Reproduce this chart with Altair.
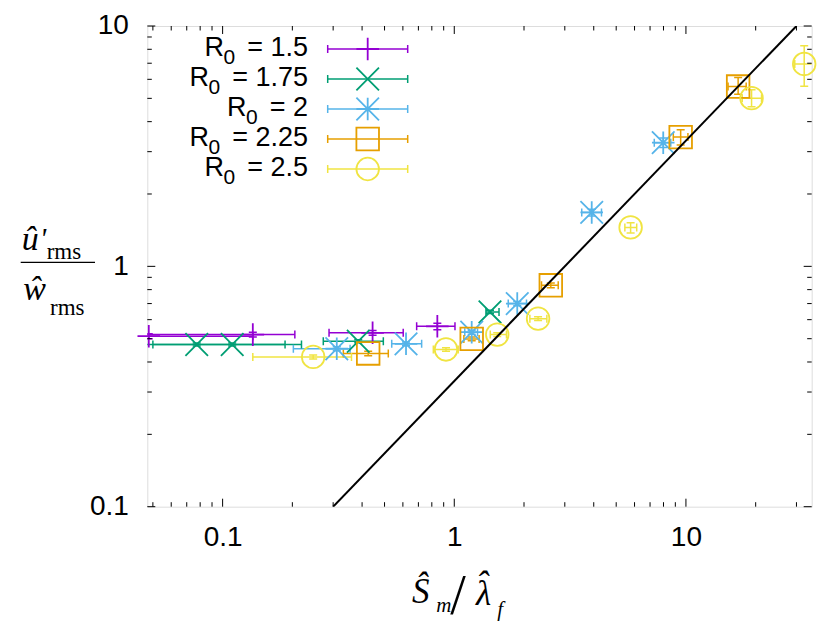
import altair as alt
import pandas as pd

# ---------------- data ----------------
SERIES = ["R0 = 1.5", "R0 = 1.75", "R0 = 2", "R0 = 2.25", "R0 = 2.5"]
R0_VALUES = ["1.5", "1.75", "2", "2.25", "2.5"]
COLORS = ["#9400d3", "#009e73", "#56b4e9", "#e69f00", "#f0e442"]

r150_x   = [0.048, 0.135, 0.444, 0.845]
r150_y   = [0.512, 0.520, 0.529, 0.563]
r150_xlo = [0.030, 0.040, 0.288, 0.688]
r150_xhi = [0.135, 0.205, 0.602, 1.007]
r150_ylo = [0.500, 0.508, 0.517, 0.545]
r150_yhi = [0.524, 0.532, 0.541, 0.580]

r175_x   = [0.0773, 0.110, 0.385, 1.426]
r175_y   = [0.473, 0.473, 0.488, 0.646]
r175_xlo = [0.035, 0.050, 0.272, 1.37]
r175_xhi = [0.186, 0.219, 0.494, 1.56]
r175_ylo = [0.466, 0.466, 0.481, 0.636]
r175_yhi = [0.480, 0.480, 0.495, 0.656]

r200_x   = [0.311, 0.619, 1.189, 1.87, 3.92, 7.98]
r200_y   = [0.454, 0.476, 0.532, 0.700, 1.676, 3.27]
r200_xlo = [0.202, 0.537, 1.11, 1.71, 3.55, 7.30]
r200_xhi = [0.355, 0.723, 1.26, 2.05, 4.32, 8.60]
r200_ylo = [0.445, 0.467, 0.522, 0.686, 1.62, 3.12]
r200_yhi = [0.463, 0.485, 0.542, 0.714, 1.73, 3.42]

r225_x   = [0.425, 1.189, 2.61, 9.49, 16.8]
r225_y   = [0.434, 0.499, 0.834, 3.45, 5.60]
r225_xlo = [0.332, 1.10, 2.38, 8.82, 15.2]
r225_xhi = [0.519, 1.28, 2.81, 10.2, 18.2]
r225_ylo = [0.425, 0.490, 0.815, 3.20, 5.20]
r225_yhi = [0.443, 0.508, 0.853, 3.70, 6.10]

r250_x   = [0.246, 0.921, 1.533, 2.30, 5.77, 19.2, 32.4]
r250_y   = [0.420, 0.451, 0.520, 0.606, 1.452, 5.01, 6.95]
r250_xlo = [0.135, 0.812, 1.43, 2.12, 5.45, 17.5, 29.5]
r250_xhi = [0.360, 1.04, 1.68, 2.51, 6.13, 21.2, 36.0]
r250_ylo = [0.412, 0.443, 0.511, 0.595, 1.375, 4.61, 5.62]
r250_yhi = [0.428, 0.459, 0.529, 0.617, 1.52, 5.43, 8.28]

FIT_X = [0.3, 30.0]
FIT_Y = [0.1, 10.0]

X_TICKS = [0.1, 1, 10]
Y_TICKS = [0.1, 1, 10]
X_DOMAIN = [0.0473, 34.9]
Y_DOMAIN = [0.1, 10]

# ---------------- build tables ----------------
series_data = [
    (r150_x, r150_y, r150_xlo, r150_xhi, r150_ylo, r150_yhi),
    (r175_x, r175_y, r175_xlo, r175_xhi, r175_ylo, r175_yhi),
    (r200_x, r200_y, r200_xlo, r200_xhi, r200_ylo, r200_yhi),
    (r225_x, r225_y, r225_xlo, r225_xhi, r225_ylo, r225_yhi),
    (r250_x, r250_y, r250_xlo, r250_xhi, r250_ylo, r250_yhi),
]
rows = []
for name, (xx, yy, xl, xh, yl, yh) in zip(SERIES, series_data):
    for a, b, c, d, e, f in zip(xx, yy, xl, xh, yl, yh):
        rows.append(dict(series=name, x=a, y=b, xlo=c, xhi=d, ylo=e, yhi=f))
df = pd.DataFrame(rows)
fit_df = pd.DataFrame({"fx": FIT_X, "fy": FIT_Y})


def minor_ticks(domain, majors):
    out = []
    for e in range(-3, 3):
        for m in range(1, 10):
            v = round(m * 10 ** e, 6)
            if domain[0] <= v <= domain[1] and v not in majors:
                out.append(v)
    return out


xmaj = pd.DataFrame({"v": X_TICKS})
xmin = pd.DataFrame({"v": minor_ticks(X_DOMAIN, X_TICKS)})
ymaj = pd.DataFrame({"v": Y_TICKS})
ymin = pd.DataFrame({"v": minor_ticks(Y_DOMAIN, Y_TICKS)})
one = pd.DataFrame({"a": [0]})

# ---------------- styling ----------------
W, H = 664.4, 480.7
SANS = "Liberation Sans"
SERIF = "Liberation Serif"
PLUS = "M-1,0L1,0M0,-1L0,1"
CROSS = "M-1,-1L1,1M-1,1L1,-1"
STAR = "M-1,0L1,0M0,-1L0,1M-1,-1L1,1M-1,1L1,-1"
SHAPES = [PLUS, CROSS, STAR, "square", "circle"]
MSIZE = 510
TICKFS = 28

xs = alt.Scale(type="log", domain=X_DOMAIN, nice=False)
ys = alt.Scale(type="log", domain=Y_DOMAIN, nice=False)
xaxis = alt.Axis(values=X_TICKS, format="~g", title=None, ticks=False, domain=False,
                 grid=False, labelFont=SANS, labelFontSize=TICKFS, labelPadding=17,
                 labelColor="black", labelFlush=False)
yaxis = alt.Axis(values=Y_TICKS, format="~g", title=None, ticks=False, domain=False,
                 grid=False, labelFont=SANS, labelFontSize=TICKFS, labelPadding=19,
                 labelColor="black", labelFlush=False)
cscale = alt.Scale(domain=SERIES, range=COLORS)
sscale = alt.Scale(domain=SERIES, range=SHAPES)


def X(f):
    return alt.X(f, type="quantitative", scale=xs, axis=xaxis)


def Y(f):
    return alt.Y(f, type="quantitative", scale=ys, axis=yaxis)


col = alt.Color("series:N", scale=cscale, legend=None)
base = alt.Chart(df)

hbar = base.mark_rule(strokeWidth=1.5, clip=True).encode(x=X("xlo"), x2="xhi:Q", y=Y("y"), color=col)
hcap1 = base.mark_tick(orient="vertical", size=8, thickness=1.5, opacity=1, clip=True).encode(
    x=X("xlo"), y=Y("y"), color=col)
hcap2 = base.mark_tick(orient="vertical", size=8, thickness=1.5, opacity=1, clip=True).encode(
    x=X("xhi"), y=Y("y"), color=col)
vbar = base.mark_rule(strokeWidth=1.5, clip=True).encode(x=X("x"), y=Y("ylo"), y2="yhi:Q", color=col)
vcap1 = base.mark_tick(orient="horizontal", size=8, thickness=1.5, opacity=1, clip=True).encode(
    x=X("x"), y=Y("ylo"), color=col)
vcap2 = base.mark_tick(orient="horizontal", size=8, thickness=1.5, opacity=1, clip=True).encode(
    x=X("x"), y=Y("yhi"), color=col)
pts = base.mark_point(filled=False, size=MSIZE, strokeWidth=1.8, opacity=1).encode(
    x=X("x"), y=Y("y"), color=col,
    shape=alt.Shape("series:N", scale=sscale, legend=None))
fit = alt.Chart(fit_df).mark_line(color="black", strokeWidth=2, clip=True).encode(
    x=X("fx"), y=Y("fy"))

layers = [hbar, hcap1, hcap2, vbar, vcap1, vcap2, pts, fit]

# frame ticks (inward, mirrored)
for tdf, ln in ((xmaj, 8), (xmin, 4.5)):
    c = alt.Chart(tdf)
    layers.append(c.mark_rule(color="black", strokeWidth=1).encode(
        x=X("v"), y=alt.value(H), y2=alt.value(H - ln)))
    layers.append(c.mark_rule(color="black", strokeWidth=1).encode(
        x=X("v"), y=alt.value(0), y2=alt.value(ln)))
for tdf, ln in ((ymaj, 8), (ymin, 4.5)):
    c = alt.Chart(tdf)
    layers.append(c.mark_rule(color="black", strokeWidth=1).encode(
        y=Y("v"), x=alt.value(0), x2=alt.value(ln)))
    layers.append(c.mark_rule(color="black", strokeWidth=1).encode(
        y=Y("v"), x=alt.value(W), x2=alt.value(W - ln)))

# ---------------- legend (manual, gnuplot style) ----------------
EM = {"0": .556, "1": .556, "2": .556, "5": .556, "7": .556, ".": .278, "=": .584, " ": .278}


def text_w(s, fs):
    return sum(EM.get(ch, .556) for ch in s) * fs


LEGFS = 27
LEG_TOP, LEG_STEP = 23, 30
LX0, LX1, LXM, LTXT = 180.4, 260.4, 220.4, 160.7
oc = alt.Chart(one)
for i, (v, colr, shp) in enumerate(zip(R0_VALUES, COLORS, SHAPES)):
    ly = LEG_TOP + LEG_STEP * i
    layers.append(oc.mark_rule(color=colr, strokeWidth=1.5).encode(
        x=alt.value(LX0), x2=alt.value(LX1), y=alt.value(ly)))
    for cx in (LX0, LX1):
        layers.append(oc.mark_rule(color=colr, strokeWidth=1.5).encode(
            x=alt.value(cx), y=alt.value(ly - 4), y2=alt.value(ly + 4)))
    layers.append(oc.mark_point(shape=shp, filled=False, size=MSIZE, strokeWidth=1.8,
                                color=colr, opacity=1).encode(x=alt.value(LXM), y=alt.value(ly)))
    val = "= " + v
    layers.append(oc.mark_text(text=val, align="right", baseline="alphabetic", font=SANS,
                               fontSize=LEGFS, color="black").encode(
        x=alt.value(LTXT), y=alt.value(ly + 7)))
    sub_r = LTXT - text_w(val, LEGFS) - 12
    layers.append(oc.mark_text(text="0", align="right", baseline="alphabetic", font=SANS,
                               fontSize=21, color="black").encode(
        x=alt.value(sub_r), y=alt.value(ly + 15)))
    layers.append(oc.mark_text(text="R", align="right", baseline="alphabetic", font=SANS,
                               fontSize=LEGFS, color="black").encode(
        x=alt.value(sub_r - text_w("0", 21) + 0.5), y=alt.value(ly + 7)))


# ---------------- axis titles (math-like) ----------------
def txt(s, x, y, fs, italic=True, align="left"):
    return oc.mark_text(text=s, align=align, baseline="alphabetic", font=SERIF, fontSize=fs,
                        fontStyle="italic" if italic else "normal", color="black").encode(
        x=alt.value(x), y=alt.value(y))


# y title: u-hat' rms over w-hat rms
layers += [
    txt("û", -125.6, 224, 34),
    txt("'", -107.5, 222, 30),
    txt("rms", -100.6, 233, 23, italic=False),
    oc.mark_rule(color="black", strokeWidth=1.3).encode(
        x=alt.value(-126.6), x2=alt.value(-52.3), y=alt.value(236.3)),
    txt("ŵ", -124.0, 274, 34),
    txt("rms", -97.3, 289, 23, italic=False),
]
# x title: S-hat_m / lambda-hat_f
layers += [
    txt("Ŝ", 264.7, 577, 35),
    txt("m", 289.0, 586, 21),
    txt("/", 303.0, 588, 56, italic=False),
    txt("λ", 328.7, 579, 35),
    txt("ˆ", 334.5, 571, 37, align="center"),
    txt("f", 350.0, 590, 21),
]

chart = alt.layer(*layers).properties(
    width=W, height=H,
    autosize=alt.AutoSizeParams(type="none"),
    padding={"left": 139.3, "top": 18, "right": 8, "bottom": 120},
).configure_view(stroke="black", strokeWidth=1.5).configure(background="white")

chart.save("out.html", embed_options={"renderer": "svg", "actions": False})
